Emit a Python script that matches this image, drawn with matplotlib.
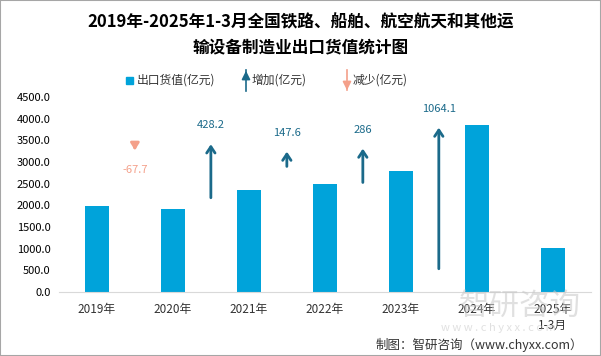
import numpy as np
import matplotlib.pyplot as plt

plt.rcParams['font.family'] = ['Noto Sans CJK SC', 'DejaVu Sans']

years = ['2019年', '2020年', '2021年', '2022年', '2023年', '2024年', '2025年\n1-3月']
export_value = [1985.0, 1917.3, 2345.5, 2493.1, 2779.1, 3843.2, 1015.0]
change = [-67.7, 428.2, 147.6, 286.0, 1064.1]
change_labels = ['-67.7', '428.2', '147.6', '286', '1064.1']
# upper end of each arrow (value units)
arrow_top = [3420, 3470, 3300, 3370, 3854]

bar_color = '#00A3DA'
up_color = '#1B6A8A'
down_color = '#F4A08A'

fig = plt.figure(figsize=(6.01, 3.56), dpi=100)
ax = fig.add_axes([0.098, 0.18, 0.885, 0.548])

x = np.arange(len(years))
ax.bar(x, export_value, width=0.316, color=bar_color, zorder=2)

scale = 3.18
for i, (c, lab, top) in enumerate(zip(change, change_labels, arrow_top)):
    xp = i + 0.5
    length = abs(c) * scale
    bottom = top - length
    if c >= 0:
        ax.annotate('', xy=(xp, top), xytext=(xp, bottom),
                    arrowprops=dict(arrowstyle='->,head_length=0.45,head_width=0.3',
                                    color=up_color, lw=2))
        ax.annotate(lab, xy=(xp, top), xytext=(0, 16), textcoords='offset pixels',
                    ha='center', va='center', fontsize=8, color=up_color)
    else:
        ax.annotate('', xy=(xp, bottom), xytext=(xp, top),
                    arrowprops=dict(arrowstyle='-|>,head_length=0.4,head_width=0.25',
                                    color=down_color, lw=2))
        ax.annotate(lab, xy=(xp, bottom), xytext=(0, -17), textcoords='offset pixels',
                    ha='center', va='center', fontsize=8, color=down_color)

ax.set_xlim(-0.5, len(years) - 0.5)
ax.set_ylim(0, 4500)
ax.set_yticks(np.arange(0, 4501, 500))
ax.set_yticklabels(['%.1f' % v for v in np.arange(0, 4501, 500)], fontsize=8)
ax.set_xticks(x)
ax.set_xticklabels(years, fontsize=8.5, color='#333333', linespacing=1.3)
ax.tick_params(length=0, pad=8)
ax.tick_params(axis='y', pad=6)
for s in ['top', 'right', 'left']:
    ax.spines[s].set_visible(False)
ax.spines['bottom'].set_color('#D9D9D9')

fig.text(0.5, 1 - 35 / 356, '2019年-2025年1-3月全国铁路、船舶、航空航天和其他运\n输设备制造业出口货值统计图',
         ha='center', va='center', fontsize=12, fontweight='bold', linespacing=1.45)

# legend
fig.patches.append(plt.Rectangle((126 / 601, 1 - 84 / 356), 7 / 601, 7 / 356,
                                 transform=fig.transFigure, color=bar_color))
fig.text(137 / 601, 1 - 80 / 356, '出口货值(亿元)', fontsize=8.5, va='center', color='#333333')
fig.add_artist(plt.Line2D([246 / 601, 246 / 601], [1 - 91 / 356, 1 - 70 / 356], color=up_color, lw=1.2))
fig.text(252 / 601, 1 - 80 / 356, '增加(亿元)', fontsize=8.5, va='center', color='#333333')
fig.text(353 / 601, 1 - 80 / 356, '减少(亿元)', fontsize=8.5, va='center', color='#333333')
fig.add_artist(plt.Line2D([347 / 601, 347 / 601], [1 - 90 / 356, 1 - 70 / 356], color=down_color, lw=1.2))
ax.annotate('', xy=(246 / 601, 1 - 68 / 356), xytext=(246 / 601, 1 - 78 / 356), xycoords='figure fraction',
            arrowprops=dict(arrowstyle='-|>,head_length=0.5,head_width=0.25', color=up_color, lw=1.2))
ax.annotate('', xy=(347 / 601, 1 - 93 / 356), xytext=(347 / 601, 1 - 83 / 356), xycoords='figure fraction',
            arrowprops=dict(arrowstyle='-|>,head_length=0.5,head_width=0.25', color=down_color, lw=1.2))

# watermark
fig.text(0.865, 1 - 306 / 356, '智研咨询', fontsize=22, color='#C8C8C8', alpha=0.55, ha='center', va='center')
fig.text(0.83, 1 - 328 / 356, 'w w w . c h y x x . c o m', fontsize=8, color='#C8C8C8', alpha=0.55,
         ha='center', va='center')

fig.text(583 / 601, 1 - 345 / 356, '制图：智研咨询（www.chyxx.com）', fontsize=9,
         ha='right', va='center', color='#333333')

fig.patches.append(plt.Rectangle((0, 0), 1, 1, transform=fig.transFigure, fill=False,
                                 edgecolor='#A6A6A6', lw=1.5))

fig.savefig('out.png', dpi=100)
